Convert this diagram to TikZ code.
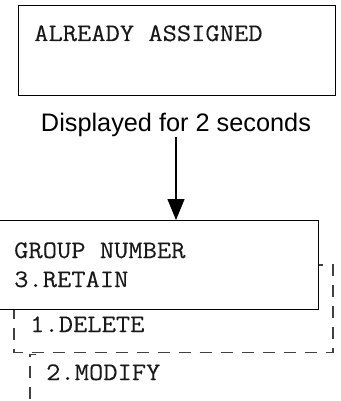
\documentclass[tikz,border=0pt]{standalone}
\usepackage{fontspec}
\setsansfont{Liberation Sans}
\newfontfamily\courfont[FakeStretch=1.1,FakeBold=0.15]{Latin Modern Mono}
\usetikzlibrary{arrows.meta}
\tikzset{
  solidbox/.style={draw=black, line width=1.3pt, fill=white, inner sep=0pt, anchor=north west},
  dashbox/.style={draw=black!75, line width=1.3pt, dash pattern=on 12pt off 9pt},
  mono/.style={font=\courfont\fontsize{25.2}{29}\selectfont, text=black!90, anchor=base west, inner sep=0pt},
  sans/.style={font=\sffamily\fontsize{25.3}{29}\selectfont, anchor=base, inner sep=0pt},
  arr/.style={line width=1.3pt, -{Triangle[width=17pt,length=21pt]}}
}
\begin{document}
\begin{tikzpicture}[x=1pt,y=-1pt]
\useasboundingbox (0,0) rectangle (340,401);
% top box
\node[solidbox, minimum width=317pt, minimum height=90pt] (top) at (18,5) {};
\node[mono] (t1) at (34,41) {ALREADY ASSIGNED};
\node[sans] (disp) at (176,131) {Displayed for 2 seconds};
% stacked boxes
\draw[dashbox] (30,420) -- (30,354.5) -- (36,354.5);
\draw[dashbox, fill=white] (14,265) rectangle (333,352.5);
\node[solidbox, minimum width=320pt, minimum height=89pt] (group) at (-2.3,220) {};
\node[mono] (g1) at (14,258) {GROUP NUMBER};
\node[mono] (g2) at (14,287) {3.RETAIN};
\node[mono] (d1) at (30,332) {1.DELETE};
\node[mono] (m1) at (46,380) {2.MODIFY};
\coordinate (a1) at (176,137);
\draw[arr] (a1) -- (a1 |- group.north);
\end{tikzpicture}
\end{document}
